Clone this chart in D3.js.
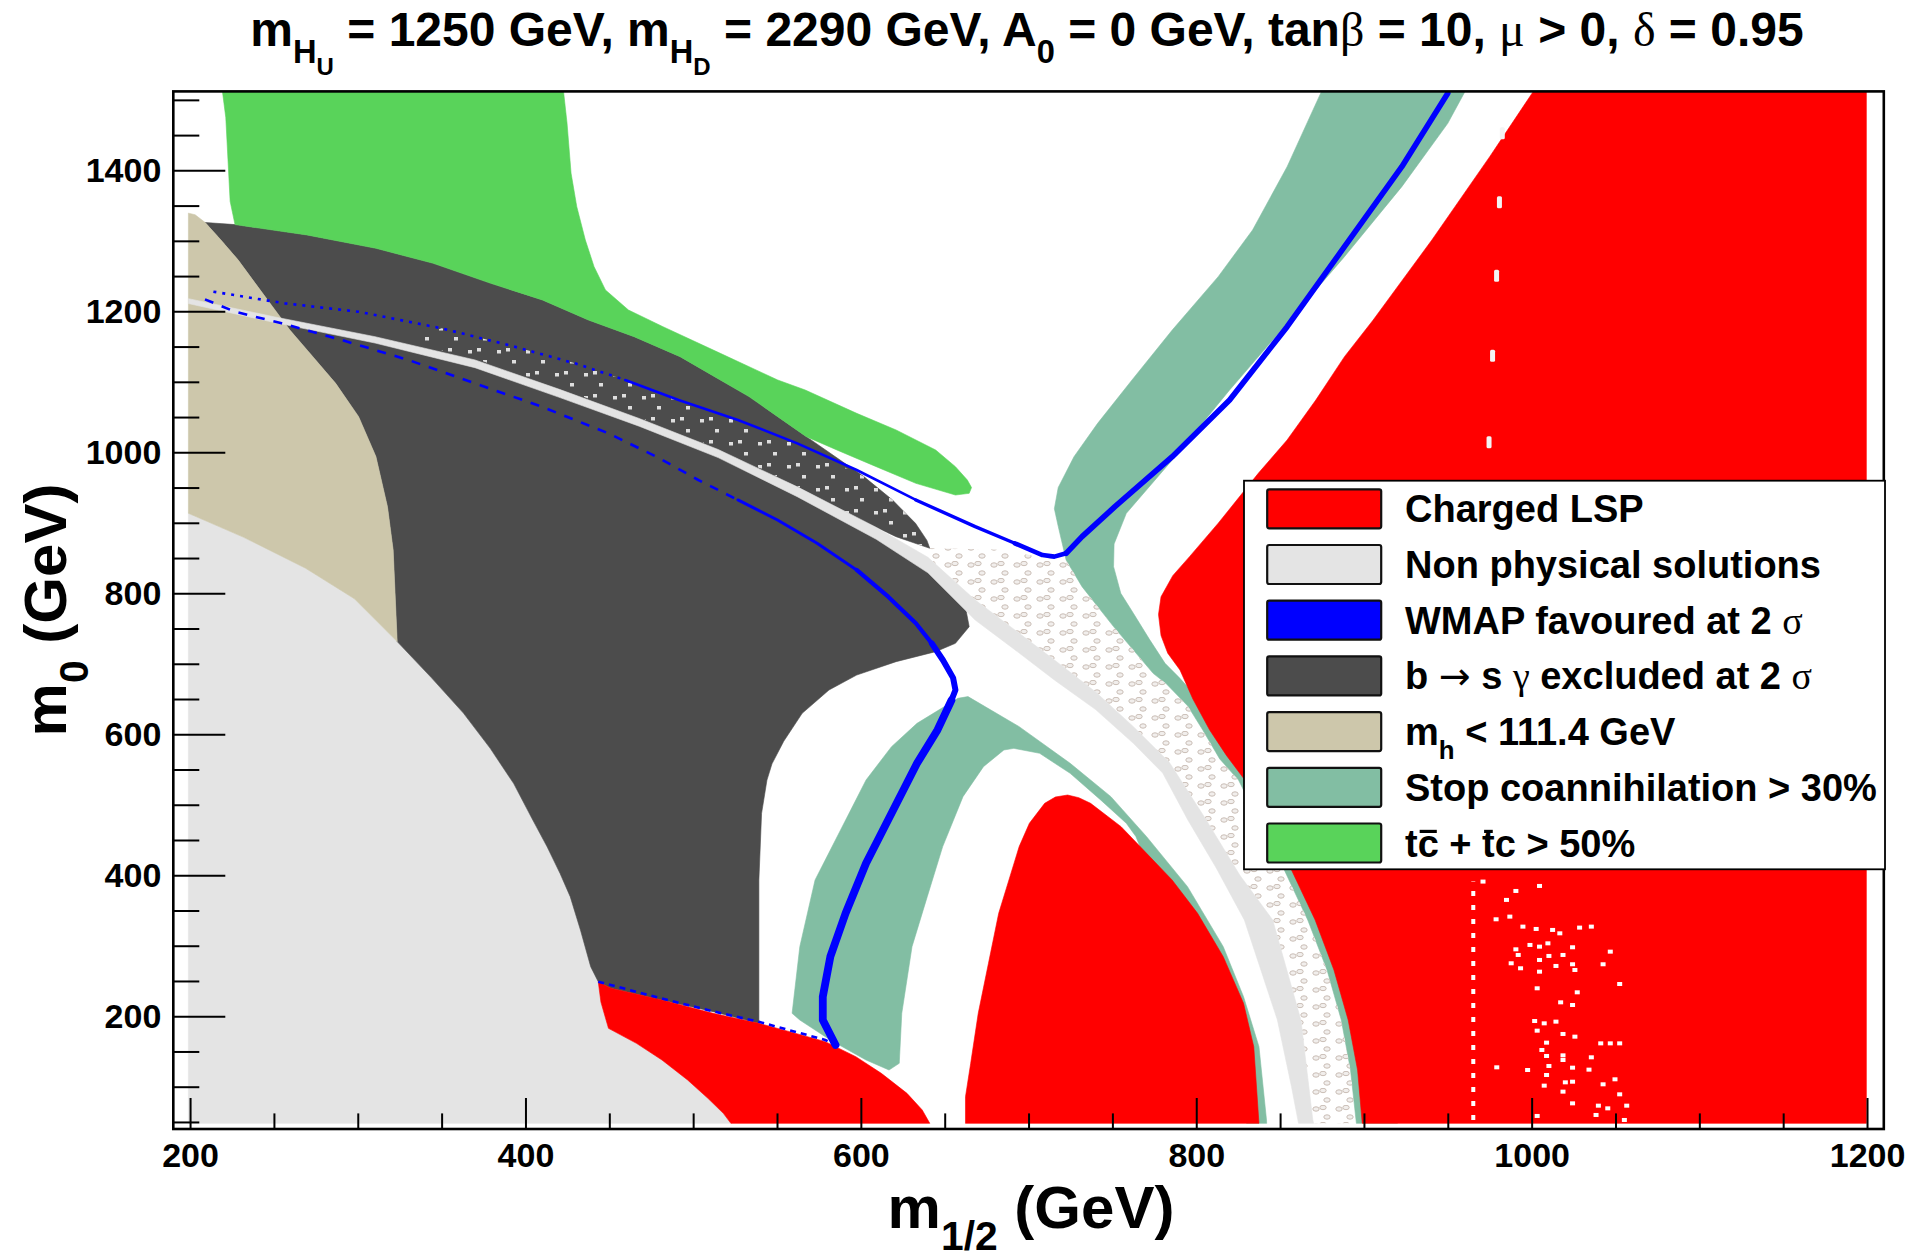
<!DOCTYPE html>
<html>
<head>
<meta charset="utf-8">
<script src="https://cdn.jsdelivr.net/npm/d3@7"></script>
<style>
  body { margin: 0; background: #ffffff; }
  svg { display: block; font-family: "Liberation Sans", Arial, Helvetica, sans-serif; }
  text { white-space: pre; }
</style>
</head>
<body>
<svg id="chart" width="1916" height="1258"></svg>
<script>
// ---------------------------------------------------------------
// Scan of the (m1/2, m0) plane. All regions are outlines in GeV.
// ---------------------------------------------------------------
const xTicks = [200, 400, 600, 800, 1000, 1200];
const yTicks = [200, 400, 600, 800, 1000, 1200, 1400];
const xMinorStep = 50;
const yMinorStep = 50;

// Non physical solutions (light grey, lower left)
const regionNonPhysical = [
  [199,48],[199,913.5],[232.4,879],[268.9,835.5],[298,792.2],[323.5,731.5],[344,680],[363,630],
  [379,580],[393,530],[404,480],[413,440],[420.6,402.7],[426.7,369.6],[432.8,322.3],[438.9,270.3],
  [443.4,249],[445,220],[449.5,182.8],[466.2,161.5],[481.4,137.9],[496.7,109.5],[508.8,83.5],
  [518,62.2],[522.5,48]
];

// b -> s gamma excluded at 2 sigma (dark grey)
const regionBsg = [
  [209,1326],[226.8,1323],[269.7,1308.3],[310.8,1289.4],[345,1268.1],[379.3,1239.7],[410.1,1216.1],
  [437.5,1187.7],[464.8,1164],[492.2,1135.7],[512.8,1107.3],[533.3,1079],[550.4,1050.6],[567.5,1022.2],
  [584.6,994],[601.8,965.5],[618.9,932.3],[632.6,899.2],[639.4,875],[641.1,863.8],[621,880.3],[600,904],
  [606,884],[640,838],[662,785],[664.6,752.6],[656.4,729],[644.6,717.2],[621,703],[597.5,684],[581,662.8],
  [565,629.7],[554,590],[547,558],[544,535],[540.8,487.8],[539.2,393.3],[539.2,189.9],[511.9,206.5],
  [481.4,223],[451,239.6],[443.4,249],[438.9,270.3],[432.8,322.3],[426.7,369.6],[420.6,402.7],[413,440],
  [404,480],[393,530],[379,580],[363,630],[344,680],[323.5,731.5],[321.1,861.4],[317.7,922.9],
  [310.8,994],[300.5,1050.6],[286.8,1097.8],[273.2,1135.7],[259.5,1173.5],[249.2,1206.6],[238.9,1239.7],
  [228.7,1272.8],[218.4,1301.2]
];

// m_h < 111.4 GeV (tan)
const regionLightHiggs = [
  [199,913.5],[199,1339.3],[203,1337],[209,1326],[218.4,1301.2],[228.7,1272.8],[238.9,1239.7],
  [249.2,1206.6],[259.5,1173.5],[273.2,1135.7],[286.8,1097.8],[300.5,1050.6],[310.8,994],[317.7,922.9],
  [321.1,861.4],[323.5,731.5],[298,792.2],[268.9,835.5],[232.4,879]
];

// t cbar + tbar c > 50% (green)
const regionTc = [
  [219.3,1512],[221.3,1475],[223.9,1356],[226.8,1323],[269.7,1308.3],[310.8,1289.4],[345,1268.1],
  [379.3,1239.7],[410.1,1216.1],[437.5,1187.7],[464.8,1164],[492.2,1135.7],[512.8,1107.3],[533.3,1079],
  [550.4,1050.6],[567.5,1022.2],[585.7,1003.3],[609.2,979.6],[632.8,956],[656.4,939.4],[664.6,941.8],
  [666,950],[663.5,960.7],[656.4,979.6],[644.6,1003.3],[621,1031.7],[597.5,1055.3],[566.8,1088.4],
  [550.4,1102.6],[516.2,1140.4],[482,1178.2],[461.4,1201.9],[447.7,1230.3],[440.9,1263.4],[435.7,1301.2],
  [430.6,1348.5],[427.2,1395.8],[424.8,1466.7],[422.7,1512]
];

// Stop coannihilation > 30% (teal): arch around the central charged-LSP island
const regionStopArch = [
  [657.9,651],[633.5,615.5],[618.3,582.4],[603.1,535.1],[587.9,464.2],[572.7,393.3],[563.6,298.7],
  [559,204.1],[563.6,194.6],[581.8,166.3],[603.1,137.9],[616.8,123.7],[622.9,133.2],[624.4,204.1],
  [630.5,298.7],[639.6,369.6],[648.8,440.6],[660.9,511.5],[673.1,554],[685.3,577.7],[691.3,580],
  [706.6,573],[724.8,544.6],[743,506.8],[758.3,473.7],[764,455],[770,420],[784,370],[799,320],
  [813,250],[823,180],[828,100],[830,48],[842,48],[841.9,52.8],[837.4,156.8],[828.2,227.7],[816.1,298.7],
  [794.8,383.8],[770.4,454.7],[749.1,511.5],[724.8,558.8],[694.4,610.8],[663.9,653.4]
];

// Stop coannihilation > 30% (teal): upper right band and strip along the right LSP edge
const regionStopRight = [
  [874.7,1512],[867.8,1476.2],[854.2,1405.2],[833.6,1315.4],[813.1,1249.2],[785.7,1173.5],[761.7,1102.6],
  [741.2,1041.1],[727.1,993.8],[717.7,950],[715.4,920],[717.7,895],[722.4,847.2],[731.9,809.4],
  [750.7,752.7],[774.3,686.4],[782,672],[795,640],[803.9,606],[814,565],[825.2,535.1],[839,470],
  [852.5,407.5],[866.5,336.5],[878,265.6],[886.5,194.6],[892,123.7],[895.5,48],[920,48],[915,120],
  [905,265],[880,407],[830,560],[805,640],[790,680],[781.4,700.6],[772,735],[762.5,771.6],[755,800],
  [750.7,837.8],[751,870],[758.3,913.4],[785.7,989.1],[819.9,1088.4],[854.2,1183],[888.4,1277.6],
  [922.6,1376.9],[950,1466.7],[960.3,1512]
];

// Charged LSP (red): three disjoint pieces
const regionLspBottom = [
  [443.4,249],[451,239.6],[481.4,223],[511.9,204.1],[539.2,189.9],[557.5,178.1],[578.8,163.9],
  [597,142.6],[612.2,119],[627.5,90.6],[636.6,67],[641.1,48],[522.5,48],[518,62.2],[508.8,83.5],
  [496.7,109.5],[481.4,137.9],[466.2,161.5],[449.5,182.8],[445,220]
];
const regionLspMiddle = [
  [662.4,48],[662.4,85.9],[665.5,133.2],[670,204.1],[676.1,275.1],[682.2,346],[688.3,393.3],
  [694.4,440.6],[700.5,473.7],[709.6,502],[716,511],[723.3,513.8],[730,510],[737,502],[755.2,468.9],
  [770.4,431.1],[785.6,393.3],[800.8,346],[816.1,284.5],[828.2,218.3],[834.3,156.8],[837.4,48]
];
const regionLspRight = [
  [1001,1512],[975,1419.4],[940.5,1301.2],[923,1244.5],[905.5,1187.7],[888.4,1135.7],[871.3,1074.2],
  [854.2,1017.5],[837,970.2],[813.1,899.4],[796,852],[786,825],[779,795],[777.5,770],[779,740],
  [783,715],[790.3,691.2],[798,650],[808,606],[818,570],[829,535],[843,470],[856.8,407.5],[870.9,336.5],
  [882.1,265.6],[890.6,194.6],[896.2,123.7],[899,48],[1199.6,48],[1199.6,1512]
];

// Narrow band of non physical solutions crossing the plane
const bandUpper = [
  [199,1218],[250.6,1192],[310.3,1164],[369.9,1131],[420.6,1089],[467.8,1048],[514.9,1004],
  [562.1,951],[609.2,893.5],[640,851],[668.2,790.5],[691.8,748],[715.4,705.4],[740,660],[762.5,610.8],
  [784,560],[805,482],[826,400],[845.6,336.5],[862.4,194.6],[869.5,52.8],[870,48]
];
const bandLower = [
  [199,1211],[250.6,1184],[310.3,1155],[369.9,1120],[420.6,1077.6],[467.8,1037],[514.9,992.5],
  [562.1,937],[609.2,876.6],[640,829],[668.2,762],[691.8,720],[715.4,677],[740,635],[762.5,587.1],
  [780,545],[795,478.4],[812,410],[828.7,336.5],[848.4,194.6],[856.8,100.1],[861,48]
];

// Scattered isolated non physical points next to the band
const zoneScatterOpen = [
  [641.1,863.8],[680,862],[712,850],[722.4,847.2],[731.9,809.4],[750.7,752.7],[774.3,686.4],[782,672],
  [795,640],[803.9,606],[814,565],[825.2,535.1],[839,470],[852.5,407.5],[866.5,336.5],[878,265.6],
  [886.5,194.6],[892,123.7],[895.5,48],[870,48],[869.5,52.8],[862.4,194.6],[845.6,336.5],[826,400],
  [805,482],[784,560],[762.5,610.8],[740,660],[715.4,705.4],[691.8,748],[668.2,790.5],[640,852]
];
const zoneScatterDark = [
  [330,1157],[369.9,1133],[420.6,1091],[467.8,1050],[514.9,1005.7],[562.1,952],[600,904],[621,880.3],
  [641.1,863.8],[632.6,899.2],[618.9,932.3],[601.8,965.5],[580,990],[562.1,1012.7],[526.7,1045.9],
  [491.3,1074.2],[459.5,1102.6],[429.6,1126.2],[389.8,1152.2],[350,1175.9]
];

// Points without a converged spectrum inside the right charged-LSP region
const failedColumn = [[965.2,52.8],[965.2,391]];
const failedPoints = [
  [971,391],[990.6,377.7],[1004.7,384.8],[985,365],[978.8,337.5],[987,341.3],[994.8,327.1],[1002.7,323.8],
  [1012.5,322.4],[1016.8,317.6],[1028.6,325.7],[1035.6,327.1],[990.6,294.9],[999,301.1],[1004.7,298.7],
  [1009.7,303.4],[1024.4,297.8],[992,286.9],[1010.3,285.5],[1018.7,286.9],[1046.9,291.6],[987.8,275.1],
  [1004.7,279.8],[1014.5,271.3],[1024.4,273.7],[1042.6,273.7],[993.4,268],[1004.7,263.2],[1025.8,265.6],
  [1052.5,245.7],[1003.3,239.6],[1027.2,233.9],[1017.3,219.7],[1024.4,215.9],[1001.8,193.2],[1007.5,189.9],
  [1014.5,192.3],[1003.3,179.5],[1025.8,171],[1018.7,174.8],[1041.2,161.5],[1046.9,161.5],[1052.5,161.5],
  [1008.9,162.5],[1006.1,152.1],[1008.9,143.6],[1018.7,144.5],[1018.7,137.9],[1035.6,141.7],[1010.3,129.4],
  [1024.4,127],[1034.2,124.2],[997.6,123.7],[1008.9,116.6],[1020.1,106.2],[1024.4,107.1],[1042.6,103.4],
  [1049.7,110.5],[1007.5,101.5],[1052.5,89.2],[1018.7,93],[1039.8,73.1],[1045.4,69.3],[1056.7,73.1],
  [1024.4,76.4],[1038.4,59.9],[1003.3,58.5],[1055.3,52.8],[979.2,127.5]
];
const failedMarks = [[982.5,1452.5],[980.8,1354.6],[979.1,1250.6],[976.7,1137.1],[974.6,1014.1]];

// WMAP favoured strip at 2 sigma (blue), upper branch, piece by piece with growing width
const wmapUpperDotted = [
  [213.9,1227.9],[256.6,1211.3],[300.3,1199.5],[350,1175.9],[389.8,1152.2],[429.6,1126.2],[459.5,1102.6]
];
const wmapUpperA = [[459.5,1102.6],[491.3,1074.2],[526.7,1045.9],[562.1,1012.7],[597.5,974.9],[632.8,932.4]];
const wmapUpperB = [[632.8,932.4],[668.2,894.5],[691.8,870.9]];
const wmapUpperC = [[691.8,870.9],[708.3,854.3],[715.4,852],[722.4,856.7]];
const wmapUpperD = [
  [722.4,856.7],[731.9,880.3],[751.5,922.9],[785.7,993.8],[819.9,1074.2],[854.2,1178.2],[888.4,1291.7],
  [922.6,1405.2],[950,1509.3]
];
// lower branch
const wmapLowerDashed = [
  [208.9,1217],[226.8,1199.5],[254.6,1183],[290.4,1159.3],[330.2,1131],[369.9,1097.8],[409.7,1064.7],
  [449.4,1027],[479.6,992],[503.1,960.7],[526.7,932.4]
];
const wmapLowerA = [[526.7,932.4],[550.3,904],[573.9,870.9],[597.5,833.1]];
const wmapLowerB = [[597.5,833.1],[616.3,795.2],[632.8,757.4],[642.3,729]];
const wmapLowerC = [[642.3,729],[649,705],[655,680],[656.4,662.8],[654,648]];
const wmapLowerD = [
  [654,648],[645.7,606.1],[633.5,558.8],[618.3,487.8],[603.1,416.9],[590.9,346],[581.8,284.5],
  [577.3,227.7],[577.3,194.6],[584.9,159.2]
];
const wmapBottomDashed = [
  [443.4,249],[481.4,225],[511.9,207],[539.2,192],[578.8,166.3],[584.9,159.2]
];

// Legend entries
const legendItems = [
  { color: "#ff0000", label: [{ t: "Charged LSP" }] },
  { color: "#e4e4e4", label: [{ t: "Non physical solutions" }] },
  { color: "#0000ff", label: [{ t: "WMAP favoured at 2 " }, { t: "σ", greek: true }] },
  { color: "#4c4c4c", label: [{ t: "b " }, { t: "→", arrow: true }, { t: " s " }, { t: "γ", greek: true }, { t: " excluded at 2 " }, { t: "σ", greek: true }] },
  { color: "#cdc7ab", label: [{ t: "m" }, { t: "h", sub: 1 }, { t: " < 111.4 GeV" }] },
  { color: "#82bea3", label: [{ t: "Stop coannihilation > 30%" }] },
  { color: "#59d35a", label: [{ t: "t" }, { t: "c", bar: true }, { t: " + " }, { t: "t", bar: true }, { t: "c > 50%" }] }
];

const titleSegments = [
  { t: "m" }, { t: "H", sub: 1 }, { t: "U", sub: 2 }, { t: " = 1250 GeV, m" }, { t: "H", sub: 1 }, { t: "D", sub: 2 },
  { t: " = 2290 GeV, A" }, { t: "0", sub: 1 }, { t: " = 0 GeV, tan" }, { t: "β", greek: true },
  { t: " = 10, " }, { t: "μ", greek: true }, { t: " > 0, " }, { t: "δ", greek: true }, { t: " = 0.95" }
];

// ---------------------------------------------------------------
const colors = {
  lsp: "#ff0000", nonPhys: "#e4e4e4", wmap: "#0000ff", bsg: "#4c4c4c",
  higgs: "#cdc7ab", stop: "#82bea3", tc: "#59d35a"
};

const svg = d3.select("#chart");
const frame = { left: 173.3, right: 1883.8, top: 91.4, bottom: 1129 };

const x = d3.scaleLinear().domain([190, 1210]).range([frame.left, frame.right]);
const y = d3.scaleLinear().domain([40, 1512]).range([frame.bottom, frame.top]);

const line = d3.line().x(d => x(d[0])).y(d => y(d[1]));
const poly = pts => line(pts) + "Z";

const defs = svg.append("defs");
defs.append("clipPath").attr("id", "plotClip")
  .append("rect")
  .attr("x", frame.left).attr("y", frame.top)
  .attr("width", frame.right - frame.left).attr("height", frame.bottom - frame.top);

// texture for isolated points
const patOpen = defs.append("pattern").attr("id", "scatterOpen")
  .attr("patternUnits", "userSpaceOnUse").attr("width", 23).attr("height", 17);
[[5, 4], [16, 12], [12, 2.5]].forEach(([cx, cy]) => {
  patOpen.append("ellipse").attr("cx", cx).attr("cy", cy).attr("rx", 3.2).attr("ry", 2.2)
    .attr("fill", "#f1eeec").attr("stroke", "#c9bdb5").attr("stroke-width", 1);
});
const patDark = defs.append("pattern").attr("id", "scatterDark")
  .attr("patternUnits", "userSpaceOnUse").attr("width", 29).attr("height", 23);
[[4, 5], [19, 15], [13, 3]].forEach(([px, py]) => {
  patDark.append("rect").attr("x", px).attr("y", py).attr("width", 4).attr("height", 3.5)
    .attr("fill", "#dedede");
});

const plot = svg.append("g").attr("clip-path", "url(#plotClip)");

function fillRegion(pts, fill) {
  plot.append("path").attr("d", poly(pts)).attr("fill", fill).attr("stroke", fill).attr("stroke-width", 0.6);
}

fillRegion(regionNonPhysical, colors.nonPhys);
fillRegion(regionBsg, colors.bsg);
fillRegion(regionLightHiggs, colors.higgs);
fillRegion(regionTc, colors.tc);
fillRegion(regionStopArch, colors.stop);
fillRegion(regionStopRight, colors.stop);
fillRegion(regionLspBottom, colors.lsp);
fillRegion(regionLspMiddle, colors.lsp);
fillRegion(regionLspRight, colors.lsp);

// sparse points around the band
plot.append("path").attr("d", poly(zoneScatterDark)).attr("fill", "url(#scatterDark)");
plot.append("path").attr("d", poly(zoneScatterOpen)).attr("fill", "url(#scatterOpen)");

// the band itself
fillRegion(bandUpper.concat(bandLower.slice().reverse()), colors.nonPhys);

// failed points in the right LSP region
plot.append("path").attr("d", line(failedColumn))
  .attr("stroke", "#ffffff").attr("stroke-width", 4).attr("stroke-dasharray", "5 9").attr("fill", "none");
plot.selectAll("rect.failed").data(failedPoints).join("rect").attr("class", "failed")
  .attr("x", d => x(d[0]) - 2.5).attr("y", d => y(d[1]) - 2).attr("width", 5).attr("height", 4)
  .attr("fill", "#ffffff");
plot.selectAll("rect.failedMark").data(failedMarks).join("rect").attr("class", "failedMark")
  .attr("x", d => x(d[0]) - 2.5).attr("y", d => y(d[1]) - 6).attr("width", 5).attr("height", 12)
  .attr("rx", 1.5).attr("fill", "#f4f4f4");

// WMAP strips
function wmap(pts, width, dash) {
  const p = plot.append("path").attr("d", line(pts)).attr("fill", "none")
    .attr("stroke", colors.wmap).attr("stroke-width", width)
    .attr("stroke-linejoin", "round").attr("stroke-linecap", dash ? "butt" : "round");
  if (dash) p.attr("stroke-dasharray", dash);
}
wmap(wmapUpperDotted, 2.6, "3 6");
wmap(wmapUpperA, 2.6, null);
wmap(wmapUpperB, 3.4, null);
wmap(wmapUpperC, 4.6, null);
wmap(wmapUpperD, 5.6, null);
wmap(wmapLowerDashed, 2.6, "9 9");
wmap(wmapLowerA, 3, null);
wmap(wmapLowerB, 4.2, null);
wmap(wmapLowerC, 6, null);
wmap(wmapLowerD, 7.8, null);
wmap(wmapBottomDashed, 2.6, "6 5");

// ---------------- axes ----------------
const tickFont = 34;
const xMinor = d3.range(200, 1201, xMinorStep).filter(v => !xTicks.includes(v));
const yMinor = d3.range(50, 1511, yMinorStep).filter(v => !yTicks.includes(v));

const gx = svg.append("g").attr("transform", `translate(0,${frame.bottom})`)
  .call(d3.axisBottom(x).tickValues(xTicks).tickSize(-31).tickPadding(14).tickFormat(d3.format("d")));
const gxm = svg.append("g").attr("transform", `translate(0,${frame.bottom})`)
  .call(d3.axisBottom(x).tickValues(xMinor).tickSize(-15.6).tickFormat(""));
const gy = svg.append("g").attr("transform", `translate(${frame.left},0)`)
  .call(d3.axisLeft(y).tickValues(yTicks).tickSize(-52).tickPadding(12).tickFormat(d3.format("d")));
const gym = svg.append("g").attr("transform", `translate(${frame.left},0)`)
  .call(d3.axisLeft(y).tickValues(yMinor).tickSize(-26).tickFormat(""));

[gx, gxm, gy, gym].forEach(g => {
  g.select(".domain").remove();
  g.selectAll(".tick line").attr("stroke", "#000").attr("stroke-width", 2);
  g.selectAll(".tick text").attr("font-size", tickFont).attr("font-weight", "bold").attr("fill", "#000");
});

svg.append("rect")
  .attr("x", frame.left).attr("y", frame.top)
  .attr("width", frame.right - frame.left).attr("height", frame.bottom - frame.top)
  .attr("fill", "none").attr("stroke", "#000").attr("stroke-width", 2.6);

// ---------------- rich text helper ----------------
const serif = "'Liberation Serif','DejaVu Serif',serif";
function richText(parent, segs, size) {
  const t = parent.append("text").attr("font-size", size).attr("font-weight", "bold").attr("fill", "#000");
  let shift = 0;
  segs.forEach(s => {
    const lvl = s.sub || 0;
    const fs = lvl === 0 ? size : lvl === 1 ? size * 0.68 : size * 0.5;
    const target = lvl === 0 ? 0 : lvl === 1 ? size * 0.36 : size * 0.6;
    const span = t.append("tspan").text(s.t).attr("font-size", fs);
    if (target - shift !== 0) span.attr("dy", target - shift);
    shift = target;
    if (s.greek) span.attr("font-family", serif).attr("font-weight", "normal");
    if (s.arrow) span.attr("font-family", "'DejaVu Sans',sans-serif").attr("font-weight", "normal");
  });
  return t;
}

// ---------------- legend ----------------
const legend = svg.append("g");
const lg = { x: 1244, y: 480.7, w: 641, h: 388.6, swX: 1267.2, swW: 114, swH: 39, rowTop: 489.3, pitch: 55.7, textX: 1405 };
legend.append("rect").attr("x", lg.x).attr("y", lg.y).attr("width", lg.w).attr("height", lg.h)
  .attr("fill", "#fff").attr("stroke", "#000").attr("stroke-width", 1.8);

legendItems.forEach((item, i) => {
  const top = lg.rowTop + i * lg.pitch;
  legend.append("rect").attr("x", lg.swX).attr("y", top).attr("width", lg.swW).attr("height", lg.swH)
    .attr("rx", 2).attr("fill", item.color).attr("stroke", "#111").attr("stroke-width", 2.2);
  const t = richText(legend, item.label, 38).attr("x", lg.textX).attr("y", top + lg.swH / 2 + 13.5);
  // bars over quark names
  let idx = 0;
  item.label.forEach(s => {
    if (s.bar) {
      const e = t.node().getExtentOfChar(idx);
      const by = top + lg.swH / 2 + 13.5 - 38 * 0.66;
      legend.append("line").attr("x1", e.x + 2).attr("x2", e.x + e.width - 2)
        .attr("y1", by).attr("y2", by).attr("stroke", "#000").attr("stroke-width", 3.2);
    }
    idx += s.t.length;
  });
});

// ---------------- title & axis titles ----------------
richText(svg, titleSegments, 48)
  .attr("x", 1027).attr("y", 46).attr("text-anchor", "middle");

richText(svg, [{ t: "m" }, { t: "1/2", sub: 1 }, { t: " (GeV)" }], 60)
  .attr("x", 1031).attr("y", 1228).attr("text-anchor", "middle");

richText(svg.append("g").attr("transform", "translate(66,610) rotate(-90)"),
  [{ t: "m" }, { t: "0", sub: 1 }, { t: " (GeV)" }], 60)
  .attr("x", 0).attr("y", 0).attr("text-anchor", "middle");
</script>
</body>
</html>
